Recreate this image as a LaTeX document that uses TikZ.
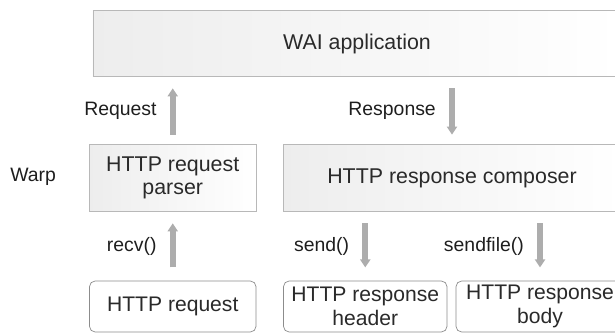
\documentclass[tikz,border=0pt]{standalone}
\usepackage{fontspec}
\setmainfont{Liberation Sans}
\usetikzlibrary{arrows.meta,positioning}
\definecolor{boxline}{HTML}{B8B8B8}
\definecolor{sockline}{HTML}{8C8C8C}
\definecolor{flowgray}{HTML}{ADADAD}
\definecolor{inkgray}{HTML}{1E1E1E}
\definecolor{boxink}{HTML}{2A2A2A}

\begin{document}
\begin{tikzpicture}[
  x=0.025cm, y=-0.025cm,
  every node/.style={font=\fontsize{13.8}{16.5}\selectfont, text=inkgray},
  layerbox/.style={rectangle, draw=boxline, line width=0.6pt, left color=black!7, right color=white, align=center, inner sep=0pt, font=\fontsize{15.2}{16.8}\selectfont, text=boxink},
  sockbox/.style={rectangle, draw=sockline, line width=0.5pt, fill=white, rounded corners=4pt, align=center, inner sep=0pt, minimum height=1.275cm, font=\fontsize{15}{16.8}\selectfont, text=boxink},
  flow/.style={line width=0.15cm, flowgray, -{Triangle[width=0.25cm, length=0.2cm]}},
  flowlabel/.style={inner sep=0pt, left=0.33cm}
]
  \useasboundingbox (0,0) rectangle (615,333);
  % WAI application
  \node[layerbox, minimum width=13.2cm, minimum height=1.65cm] (wai) at (357,43.7) {WAI application};
  % Warp
  \node[anchor=west, inner sep=0pt] (warp) at (10,176.5) {Warp};
  \node[layerbox, minimum width=4.1625cm, minimum height=1.685cm] (parser) at (172.75,178) {HTTP request\\parser};
  \node[layerbox, minimum width=8.425cm, minimum height=1.685cm] (composer) at (452,178) {HTTP response composer};
  % sockets
  \node[sockbox, minimum width=4.1625cm] (req) at (172.75,306.5) {HTTP request};
  \node[sockbox, minimum width=4.0875cm] (header) at (365.25,306.5) {HTTP response\\header};
  \node[sockbox, minimum width=4.2cm] (body) at (540,306.5) {HTTP response\\body};
  % arrows
  \draw[flow, shorten <=0.23cm, shorten >=0.28cm] (parser.north) -- (wai.south -| parser.north)
    node[midway, flowlabel] (lreq) {Request};
  \draw[flow, shorten <=0.28cm, shorten >=0.23cm] (wai.south -| composer.north) -- (composer.north)
    node[midway, flowlabel] (lresp) {Response};
  \draw[flow, shorten <=0.33cm, shorten >=0.28cm] (req.north) -- (parser.south)
    node[midway, flowlabel] (lrecv) {recv()};
  \draw[flow, shorten <=0.28cm, shorten >=0.33cm] (composer.south -| header.north) -- (header.north)
    node[midway, flowlabel] (lsend) {send()};
  \draw[flow, shorten <=0.28cm, shorten >=0.33cm] (composer.south -| body.north) -- (body.north)
    node[midway, flowlabel] (lfile) {sendfile()};
\end{tikzpicture}
\end{document}
